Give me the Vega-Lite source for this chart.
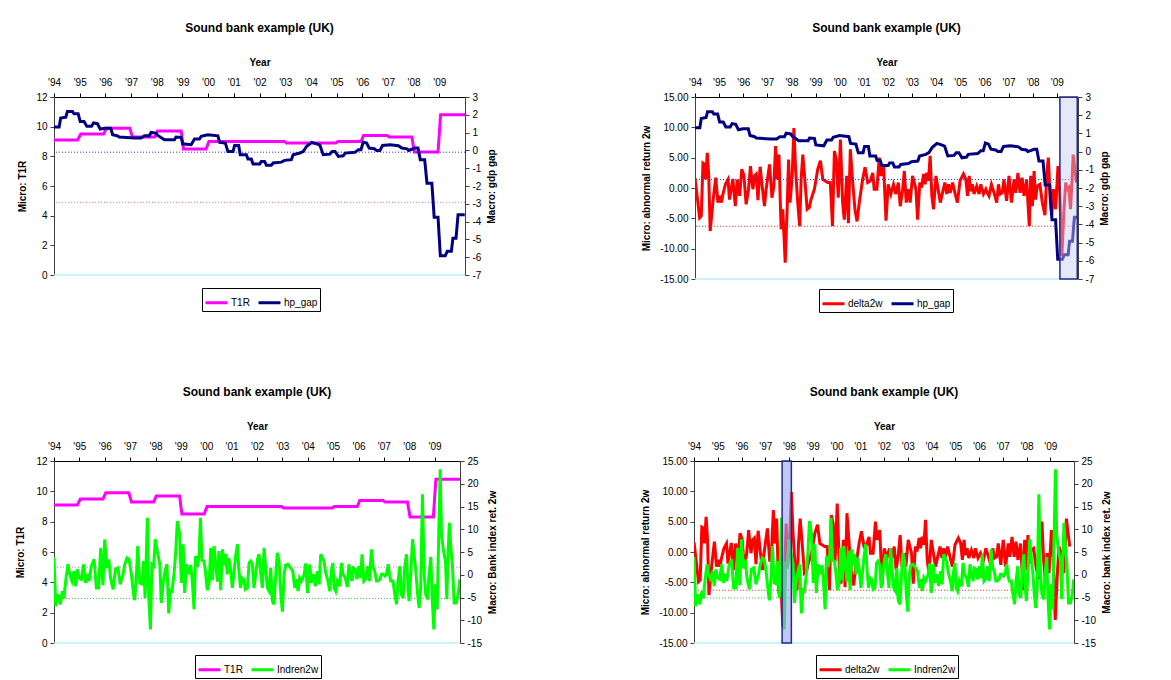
{
"$schema": "https://vega.github.io/schema/vega-lite/v6.json",
"padding": {"left": 15, "top": 22, "right": 0, "bottom": 0},
"datasets": {
"t1r": [{"year":1994,"v":9.1},{"year":1994.92,"v":9.1},{"year":1995.04,"v":9.5},{"year":1995.93,"v":9.5},{"year":1996.04,"v":9.9},{"year":1996.95,"v":9.9},{"year":1997.05,"v":9.3},{"year":1997.93,"v":9.3},{"year":1998.03,"v":9.7},{"year":1998.95,"v":9.7},{"year":1999.04,"v":8.5},{"year":1999.92,"v":8.5},{"year":2000.03,"v":9.0},{"year":2002.97,"v":9.0},{"year":2003.05,"v":8.9},{"year":2004.97,"v":8.9},{"year":2005.05,"v":9.0},{"year":2005.95,"v":9.0},{"year":2006.05,"v":9.4},{"year":2006.97,"v":9.4},{"year":2007.05,"v":9.3},{"year":2007.93,"v":9.3},{"year":2008.03,"v":8.3},{"year":2008.95,"v":8.3},{"year":2009.05,"v":10.8},{"year":2010,"v":10.8}],
"hp": [{"year":1994.00,"v":1.31},{"year":1994.20,"v":1.31},{"year":1994.26,"v":1.82},{"year":1994.46,"v":1.87},{"year":1994.52,"v":2.19},{"year":1994.72,"v":2.19},{"year":1994.78,"v":2.06},{"year":1994.94,"v":2.06},{"year":1995.02,"v":1.63},{"year":1995.17,"v":1.63},{"year":1995.28,"v":1.35},{"year":1995.46,"v":1.35},{"year":1995.54,"v":1.54},{"year":1995.69,"v":1.50},{"year":1995.80,"v":1.20},{"year":1995.99,"v":1.25},{"year":1996.21,"v":1.25},{"year":1996.28,"v":0.88},{"year":1996.47,"v":0.82},{"year":1996.54,"v":0.75},{"year":1997.13,"v":0.69},{"year":1997.39,"v":0.69},{"year":1997.52,"v":0.82},{"year":1997.71,"v":0.82},{"year":1997.78,"v":1.01},{"year":1997.97,"v":0.97},{"year":1998.04,"v":0.84},{"year":1998.30,"v":0.60},{"year":1998.69,"v":0.60},{"year":1998.75,"v":0.75},{"year":1998.95,"v":0.73},{"year":1999.01,"v":0.37},{"year":1999.34,"v":0.32},{"year":1999.47,"v":0.64},{"year":1999.66,"v":0.64},{"year":1999.73,"v":0.79},{"year":1999.99,"v":0.88},{"year":2000.38,"v":0.82},{"year":2000.45,"v":0.45},{"year":2000.67,"v":0.41},{"year":2000.77,"v":-0.06},{"year":2000.97,"v":-0.06},{"year":2001.03,"v":0.28},{"year":2001.19,"v":0.28},{"year":2001.25,"v":-0.24},{"year":2001.49,"v":-0.24},{"year":2001.55,"v":-0.49},{"year":2001.68,"v":-0.49},{"year":2001.75,"v":-0.77},{"year":2002.01,"v":-0.77},{"year":2002.07,"v":-0.62},{"year":2002.20,"v":-0.62},{"year":2002.27,"v":-0.84},{"year":2002.46,"v":-0.84},{"year":2002.53,"v":-0.71},{"year":2002.85,"v":-0.66},{"year":2002.98,"v":-0.56},{"year":2003.24,"v":-0.52},{"year":2003.31,"v":-0.24},{"year":2003.57,"v":-0.15},{"year":2003.70,"v":-0.06},{"year":2003.83,"v":0.22},{"year":2004.03,"v":0.45},{"year":2004.22,"v":0.37},{"year":2004.35,"v":0.30},{"year":2004.48,"v":-0.24},{"year":2004.74,"v":-0.21},{"year":2004.83,"v":-0.06},{"year":2004.94,"v":-0.06},{"year":2005.07,"v":-0.34},{"year":2005.26,"v":-0.30},{"year":2005.33,"v":-0.15},{"year":2005.72,"v":-0.11},{"year":2005.85,"v":0.04},{"year":2005.95,"v":0.04},{"year":2006.04,"v":0.47},{"year":2006.17,"v":0.41},{"year":2006.27,"v":0.13},{"year":2006.47,"v":0.09},{"year":2006.56,"v":0.0},{"year":2006.69,"v":0.0},{"year":2006.79,"v":0.28},{"year":2007.08,"v":0.32},{"year":2007.41,"v":0.26},{"year":2007.54,"v":0.13},{"year":2007.74,"v":0.09},{"year":2007.80,"v":0.0},{"year":2008.06,"v":0.13},{"year":2008.17,"v":0.13},{"year":2008.26,"v":-0.52},{"year":2008.43,"v":-0.52},{"year":2008.52,"v":-1.84},{"year":2008.71,"v":-1.84},{"year":2008.80,"v":-3.75},{"year":2008.95,"v":-3.75},{"year":2009.04,"v":-5.92},{"year":2009.23,"v":-5.92},{"year":2009.31,"v":-5.67},{"year":2009.47,"v":-5.67},{"year":2009.53,"v":-4.93},{"year":2009.65,"v":-4.93},{"year":2009.73,"v":-3.61},{"year":2009.99,"v":-3.61}],
"d2w": [{"year":1994.00,"v":1.6},{"year":1994.12,"v":-2.4},{"year":1994.19,"v":-4.9},{"year":1994.26,"v":-4.6},{"year":1994.33,"v":4.1},{"year":1994.40,"v":3.9},{"year":1994.44,"v":1.4},{"year":1994.51,"v":5.8},{"year":1994.57,"v":2.0},{"year":1994.63,"v":-7.1},{"year":1994.74,"v":-2.4},{"year":1994.86,"v":1.7},{"year":1994.95,"v":-2.4},{"year":1995.02,"v":-1.3},{"year":1995.09,"v":-2.4},{"year":1995.16,"v":-1.0},{"year":1995.26,"v":0.6},{"year":1995.37,"v":1.4},{"year":1995.43,"v":-1.9},{"year":1995.50,"v":-0.2},{"year":1995.57,"v":1.5},{"year":1995.67,"v":-3.0},{"year":1995.75,"v":1.4},{"year":1995.85,"v":-1.3},{"year":1995.94,"v":3.1},{"year":1996.03,"v":2.0},{"year":1996.12,"v":-2.7},{"year":1996.22,"v":-0.2},{"year":1996.30,"v":3.6},{"year":1996.40,"v":-0.2},{"year":1996.47,"v":2.0},{"year":1996.54,"v":2.3},{"year":1996.61,"v":-2.0},{"year":1996.70,"v":3.5},{"year":1996.77,"v":0.9},{"year":1996.88,"v":-3.0},{"year":1996.95,"v":-0.2},{"year":1997.09,"v":3.9},{"year":1997.19,"v":-1.6},{"year":1997.27,"v":0.3},{"year":1997.34,"v":6.9},{"year":1997.41,"v":1.4},{"year":1997.48,"v":5.5},{"year":1997.57,"v":-6.8},{"year":1997.64,"v":-3.5},{"year":1997.74,"v":-12.3},{"year":1997.82,"v":-3.5},{"year":1997.88,"v":4.7},{"year":1997.94,"v":-2.4},{"year":1998.03,"v":2.0},{"year":1998.10,"v":9.9},{"year":1998.17,"v":3.1},{"year":1998.26,"v":-2.4},{"year":1998.34,"v":-6.3},{"year":1998.40,"v":1.4},{"year":1998.47,"v":5.5},{"year":1998.57,"v":0.6},{"year":1998.65,"v":-3.5},{"year":1998.74,"v":-3.2},{"year":1998.81,"v":-1.9},{"year":1998.95,"v":-0.2},{"year":1999.09,"v":3.1},{"year":1999.20,"v":4.5},{"year":1999.30,"v":1.4},{"year":1999.39,"v":1.2},{"year":1999.50,"v":0.9},{"year":1999.61,"v":0.9},{"year":1999.70,"v":-6.3},{"year":1999.78,"v":6.1},{"year":1999.86,"v":4.7},{"year":1999.94,"v":-1.6},{"year":2000.03,"v":8.0},{"year":2000.12,"v":-2.4},{"year":2000.19,"v":-5.2},{"year":2000.29,"v":2.0},{"year":2000.36,"v":-5.8},{"year":2000.44,"v":6.4},{"year":2000.54,"v":0.9},{"year":2000.63,"v":-3.5},{"year":2000.72,"v":-5.5},{"year":2000.81,"v":-2.4},{"year":2000.95,"v":1.4},{"year":2001.05,"v":3.4},{"year":2001.16,"v":0.9},{"year":2001.27,"v":1.2},{"year":2001.37,"v":2.5},{"year":2001.43,"v":-0.2},{"year":2001.54,"v":-0.2},{"year":2001.64,"v":5.0},{"year":2001.71,"v":2.0},{"year":2001.82,"v":3.6},{"year":2001.92,"v":-5.4},{"year":2002.01,"v":0.6},{"year":2002.12,"v":-1.0},{"year":2002.23,"v":0.6},{"year":2002.33,"v":-1.0},{"year":2002.43,"v":0.9},{"year":2002.51,"v":-3.0},{"year":2002.61,"v":-0.2},{"year":2002.68,"v":2.8},{"year":2002.76,"v":-2.4},{"year":2002.84,"v":-0.2},{"year":2002.92,"v":-2.4},{"year":2003.02,"v":2.0},{"year":2003.16,"v":-0.2},{"year":2003.23,"v":-5.2},{"year":2003.32,"v":0.9},{"year":2003.39,"v":0.1},{"year":2003.48,"v":2.3},{"year":2003.54,"v":0.6},{"year":2003.61,"v":2.5},{"year":2003.68,"v":1.2},{"year":2003.75,"v":5.3},{"year":2003.82,"v":-1.3},{"year":2003.89,"v":-3.5},{"year":2003.99,"v":2.0},{"year":2004.08,"v":-0.2},{"year":2004.17,"v":-2.4},{"year":2004.26,"v":-0.8},{"year":2004.36,"v":0.9},{"year":2004.44,"v":-1.0},{"year":2004.51,"v":0.6},{"year":2004.58,"v":-0.8},{"year":2004.68,"v":0.9},{"year":2004.79,"v":-1.0},{"year":2004.88,"v":-2.4},{"year":2004.99,"v":1.2},{"year":2005.13,"v":2.3},{"year":2005.23,"v":1.4},{"year":2005.30,"v":-1.3},{"year":2005.37,"v":2.0},{"year":2005.43,"v":-0.5},{"year":2005.50,"v":0.6},{"year":2005.57,"v":-1.0},{"year":2005.68,"v":0.3},{"year":2005.78,"v":-1.0},{"year":2005.85,"v":0.6},{"year":2005.96,"v":-1.0},{"year":2006.06,"v":-0.2},{"year":2006.12,"v":-0.8},{"year":2006.19,"v":-1.3},{"year":2006.29,"v":0.6},{"year":2006.40,"v":-0.8},{"year":2006.51,"v":-2.4},{"year":2006.58,"v":0.6},{"year":2006.65,"v":-1.0},{"year":2006.74,"v":-0.8},{"year":2006.81,"v":1.4},{"year":2006.92,"v":-2.1},{"year":2007.02,"v":2.0},{"year":2007.12,"v":-2.4},{"year":2007.23,"v":1.4},{"year":2007.30,"v":-0.8},{"year":2007.39,"v":2.5},{"year":2007.48,"v":-0.8},{"year":2007.56,"v":1.7},{"year":2007.64,"v":-1.3},{"year":2007.75,"v":1.4},{"year":2007.86,"v":-6.3},{"year":2007.92,"v":2.0},{"year":2007.99,"v":-3.0},{"year":2008.06,"v":2.8},{"year":2008.12,"v":-1.9},{"year":2008.19,"v":0.3},{"year":2008.30,"v":0.6},{"year":2008.40,"v":-2.4},{"year":2008.51,"v":-4.5},{"year":2008.58,"v":2.0},{"year":2008.65,"v":5.0},{"year":2008.72,"v":-1.3},{"year":2008.79,"v":-4.6},{"year":2008.86,"v":-0.2},{"year":2008.95,"v":-3.5},{"year":2009.05,"v":3.6},{"year":2009.12,"v":-0.2},{"year":2009.21,"v":-11.2},{"year":2009.30,"v":-3.5},{"year":2009.37,"v":0.9},{"year":2009.43,"v":-0.2},{"year":2009.50,"v":0.1},{"year":2009.57,"v":-3.5},{"year":2009.63,"v":0.9},{"year":2009.68,"v":5.5},{"year":2009.75,"v":3.1},{"year":2009.82,"v":0.9}],
"ind": [{"year":1994.00,"v":3.9},{"year":1994.07,"v":-6.9},{"year":1994.16,"v":-4.3},{"year":1994.25,"v":-6.5},{"year":1994.33,"v":-3.6},{"year":1994.39,"v":-5.2},{"year":1994.46,"v":-1.4},{"year":1994.55,"v":2.3},{"year":1994.62,"v":0.1},{"year":1994.71,"v":-1.4},{"year":1994.79,"v":0.8},{"year":1994.85,"v":-2.5},{"year":1994.92,"v":1.2},{"year":1994.99,"v":-0.7},{"year":1995.08,"v":-1.0},{"year":1995.17,"v":2.3},{"year":1995.24,"v":-1.8},{"year":1995.31,"v":0.2},{"year":1995.38,"v":-1.4},{"year":1995.47,"v":1.9},{"year":1995.58,"v":3.4},{"year":1995.67,"v":-2.9},{"year":1995.76,"v":-2.9},{"year":1995.84,"v":5.9},{"year":1995.93,"v":-2.3},{"year":1996.00,"v":7.8},{"year":1996.08,"v":1.5},{"year":1996.16,"v":3.4},{"year":1996.23,"v":-0.7},{"year":1996.33,"v":-3.2},{"year":1996.42,"v":1.2},{"year":1996.52,"v":1.5},{"year":1996.61,"v":-2.1},{"year":1996.72,"v":0.1},{"year":1996.79,"v":2.3},{"year":1996.88,"v":3.7},{"year":1996.96,"v":3.4},{"year":1997.05,"v":0.1},{"year":1997.13,"v":-4.0},{"year":1997.18,"v":-5.6},{"year":1997.25,"v":0.1},{"year":1997.30,"v":6.3},{"year":1997.38,"v":-1.8},{"year":1997.47,"v":-2.0},{"year":1997.53,"v":3.0},{"year":1997.59,"v":-5.1},{"year":1997.68,"v":12.5},{"year":1997.73,"v":-4.3},{"year":1997.80,"v":-12.0},{"year":1997.86,"v":2.3},{"year":1997.93,"v":1.9},{"year":1997.99,"v":7.8},{"year":1998.07,"v":5.2},{"year":1998.17,"v":2.4},{"year":1998.23,"v":-6.2},{"year":1998.30,"v":-1.8},{"year":1998.39,"v":1.2},{"year":1998.45,"v":2.3},{"year":1998.52,"v":-8.5},{"year":1998.59,"v":-3.4},{"year":1998.65,"v":-3.6},{"year":1998.73,"v":0.1},{"year":1998.80,"v":5.2},{"year":1998.86,"v":11.8},{"year":1998.95,"v":8.9},{"year":1999.02,"v":-1.8},{"year":1999.09,"v":6.7},{"year":1999.15,"v":-4.0},{"year":1999.23,"v":2.3},{"year":1999.31,"v":0.1},{"year":1999.39,"v":2.1},{"year":1999.45,"v":-1.4},{"year":1999.52,"v":-7.6},{"year":1999.58,"v":4.1},{"year":1999.65,"v":1.7},{"year":1999.72,"v":4.5},{"year":1999.77,"v":12.5},{"year":1999.83,"v":3.2},{"year":1999.91,"v":3.0},{"year":1999.97,"v":0.7},{"year":2000.04,"v":-3.4},{"year":2000.11,"v":-2.0},{"year":2000.18,"v":5.9},{"year":2000.24,"v":-1.2},{"year":2000.31,"v":6.3},{"year":2000.37,"v":2.3},{"year":2000.44,"v":-1.5},{"year":2000.50,"v":5.2},{"year":2000.57,"v":-3.4},{"year":2000.64,"v":5.6},{"year":2000.70,"v":2.1},{"year":2000.77,"v":4.6},{"year":2000.83,"v":0.1},{"year":2000.89,"v":3.7},{"year":2000.96,"v":1.0},{"year":2001.03,"v":-2.9},{"year":2001.10,"v":0.8},{"year":2001.16,"v":4.1},{"year":2001.23,"v":6.7},{"year":2001.28,"v":1.5},{"year":2001.35,"v":-2.9},{"year":2001.41,"v":-0.7},{"year":2001.48,"v":-1.0},{"year":2001.54,"v":-3.2},{"year":2001.62,"v":-2.9},{"year":2001.69,"v":2.6},{"year":2001.75,"v":3.0},{"year":2001.82,"v":2.3},{"year":2001.88,"v":-2.9},{"year":2001.95,"v":0.1},{"year":2002.02,"v":3.4},{"year":2002.08,"v":4.5},{"year":2002.15,"v":0.1},{"year":2002.21,"v":-2.9},{"year":2002.28,"v":5.9},{"year":2002.34,"v":1.5},{"year":2002.41,"v":-2.9},{"year":2002.48,"v":-3.6},{"year":2002.54,"v":1.5},{"year":2002.61,"v":-5.8},{"year":2002.67,"v":-6.5},{"year":2002.74,"v":0.1},{"year":2002.80,"v":4.8},{"year":2002.87,"v":3.0},{"year":2002.94,"v":-4.3},{"year":2003.00,"v":-8.1},{"year":2003.07,"v":0.1},{"year":2003.13,"v":2.1},{"year":2003.22,"v":2.3},{"year":2003.33,"v":1.5},{"year":2003.41,"v":0.8},{"year":2003.49,"v":-2.9},{"year":2003.55,"v":-1.0},{"year":2003.62,"v":-3.6},{"year":2003.68,"v":-0.7},{"year":2003.75,"v":-1.4},{"year":2003.86,"v":0.1},{"year":2003.92,"v":2.5},{"year":2003.99,"v":-4.0},{"year":2004.08,"v":2.3},{"year":2004.14,"v":-1.8},{"year":2004.22,"v":0.1},{"year":2004.30,"v":-2.5},{"year":2004.38,"v":0.8},{"year":2004.45,"v":-2.1},{"year":2004.51,"v":4.5},{"year":2004.58,"v":3.7},{"year":2004.64,"v":3.0},{"year":2004.71,"v":0.4},{"year":2004.80,"v":-1.4},{"year":2004.87,"v":-3.6},{"year":2004.93,"v":0.8},{"year":2004.99,"v":2.6},{"year":2005.04,"v":-2.9},{"year":2005.10,"v":-3.6},{"year":2005.17,"v":-1.4},{"year":2005.26,"v":-2.5},{"year":2005.33,"v":2.6},{"year":2005.39,"v":0.1},{"year":2005.48,"v":-0.7},{"year":2005.56,"v":-2.7},{"year":2005.62,"v":2.3},{"year":2005.68,"v":0.1},{"year":2005.75,"v":-1.4},{"year":2005.80,"v":1.5},{"year":2005.88,"v":1.2},{"year":2005.94,"v":-1.0},{"year":2006.01,"v":1.9},{"year":2006.08,"v":-0.7},{"year":2006.14,"v":4.5},{"year":2006.21,"v":-1.4},{"year":2006.27,"v":-1.0},{"year":2006.35,"v":1.9},{"year":2006.43,"v":-1.4},{"year":2006.51,"v":5.6},{"year":2006.58,"v":1.5},{"year":2006.64,"v":0.8},{"year":2006.71,"v":-1.4},{"year":2006.77,"v":-1.4},{"year":2006.85,"v":-1.0},{"year":2006.90,"v":0.1},{"year":2006.97,"v":0.1},{"year":2007.04,"v":-0.3},{"year":2007.10,"v":0.1},{"year":2007.17,"v":2.3},{"year":2007.22,"v":0.1},{"year":2007.27,"v":-1.4},{"year":2007.36,"v":-1.4},{"year":2007.43,"v":-4.3},{"year":2007.50,"v":-6.5},{"year":2007.56,"v":-1.4},{"year":2007.63,"v":1.9},{"year":2007.69,"v":-4.3},{"year":2007.76,"v":-5.1},{"year":2007.82,"v":1.5},{"year":2007.89,"v":4.5},{"year":2007.96,"v":-3.6},{"year":2007.99,"v":-5.8},{"year":2008.06,"v":0.1},{"year":2008.13,"v":7.8},{"year":2008.19,"v":4.5},{"year":2008.26,"v":0.8},{"year":2008.33,"v":-4.3},{"year":2008.39,"v":-7.3},{"year":2008.45,"v":-2.9},{"year":2008.52,"v":17.7},{"year":2008.59,"v":0.1},{"year":2008.65,"v":-4.3},{"year":2008.72,"v":-5.4},{"year":2008.78,"v":0.1},{"year":2008.85,"v":3.9},{"year":2008.91,"v":-5.8},{"year":2008.97,"v":-12.0},{"year":2009.03,"v":-2.1},{"year":2009.10,"v":-7.6},{"year":2009.16,"v":8.1},{"year":2009.22,"v":23.2},{"year":2009.27,"v":8.9},{"year":2009.35,"v":5.2},{"year":2009.43,"v":3.0},{"year":2009.48,"v":-5.4},{"year":2009.53,"v":4.5},{"year":2009.58,"v":11.4},{"year":2009.64,"v":5.9},{"year":2009.70,"v":2.3},{"year":2009.77,"v":-6.2},{"year":2009.85,"v":-6.2},{"year":2009.93,"v":-4.3},{"year":2009.99,"v":-1.0}]
},
"vconcat": [
{"hconcat": [
{
"width": 411, "height": 178,
"title": "Sound bank example (UK)",
"layer": [
 {"layer": [
  {"data": {"name": "t1r"}, "mark": {"type": "line", "strokeWidth": 3, "clip": true},
   "encoding": {
    "x": {"field": "year", "type": "quantitative", "scale": {"domain": [1994, 2010], "nice": false, "zero": false}, "axis": {"orient": "top", "title": "Year", "values": [1994,1995,1996,1997,1998,1999,2000,2001,2002,2003,2004,2005,2006,2007,2008,2009], "labelExpr": "\"'\" + substring(toString(datum.value), 2, 4)"}},
    "y": {"field": "v", "type": "quantitative", "scale": {"domain": [0, 12], "nice": false, "zero": false}, "axis": {"orient": "left", "title": "Micro: T1R", "values": [0,2,4,6,8,10,12]}},
    "color": {"datum": "T1R", "type": "nominal", "scale": {"domain": ["T1R", "hp_gap"], "range": ["#ff00ff", "#000080"]}, "legend": {"title": null, "orient": "none", "legendX": 148, "legendY": 191}}
   }},
  {"data": {"values": [{}]}, "mark": {"type": "rule", "color": "#ff66ff", "strokeDash": [1, 2], "strokeWidth": 1}, "encoding": {"y": {"datum": 4.9, "type": "quantitative", "axis": {"orient": "left", "title": "Micro: T1R", "values": [0,2,4,6,8,10,12]}}}},
  {"data": {"values": [{}]}, "mark": {"type": "rule", "color": "#b8f0f8", "strokeWidth": 1.5}, "encoding": {"y": {"datum": 0, "type": "quantitative", "axis": {"orient": "left", "title": "Micro: T1R", "values": [0,2,4,6,8,10,12]}}}}
 ]},
 {"layer": [
  {"data": {"values": [{}]}, "mark": {"type": "rule", "color": "#3333ff", "strokeDash": [1, 2], "strokeWidth": 1}, "encoding": {"y": {"datum": -0.1, "type": "quantitative", "axis": {"orient": "right", "title": "Macro: gdp gap", "values": [-7,-6,-5,-4,-3,-2,-1,0,1,2,3], "titleAngle": 270, "titleBaseline": "top"}}}},
  {"data": {"name": "hp"}, "mark": {"type": "line", "strokeWidth": 3, "clip": true},
   "encoding": {
    "x": {"field": "year", "type": "quantitative", "scale": {"domain": [1994, 2010], "nice": false, "zero": false}, "axis": {"orient": "top", "title": "Year", "values": [1994,1995,1996,1997,1998,1999,2000,2001,2002,2003,2004,2005,2006,2007,2008,2009], "labelExpr": "\"'\" + substring(toString(datum.value), 2, 4)"}},
    "y": {"field": "v", "type": "quantitative", "scale": {"domain": [-7, 3], "nice": false, "zero": false}, "axis": {"orient": "right", "title": "Macro: gdp gap", "values": [-7,-6,-5,-4,-3,-2,-1,0,1,2,3], "titleAngle": 270, "titleBaseline": "top"}},
    "color": {"datum": "hp_gap", "type": "nominal", "legend": {"title": null, "orient": "none", "legendX": 148, "legendY": 191}}
   }}
 ]}
],
"resolve": {"scale": {"y": "independent"}}
},
{
"width": 383, "height": 182,
"title": "Sound bank example (UK)",
"layer": [
 {"layer": [
  {"data": {"name": "d2w"}, "mark": {"type": "line", "strokeWidth": 3, "clip": true},
   "encoding": {
    "x": {"field": "year", "type": "quantitative", "scale": {"domain": [1994, 2009.88], "nice": false, "zero": false}, "axis": {"orient": "top", "title": "Year", "values": [1994,1995,1996,1997,1998,1999,2000,2001,2002,2003,2004,2005,2006,2007,2008,2009], "labelExpr": "\"'\" + substring(toString(datum.value), 2, 4)"}},
    "y": {"field": "v", "type": "quantitative", "scale": {"domain": [-15, 15], "nice": false, "zero": false}, "axis": {"orient": "left", "title": "Micro: abnormal return 2w", "values": [-15,-10,-5,0,5,10,15], "format": ".2f"}},
    "color": {"datum": "delta2w", "type": "nominal", "scale": {"domain": ["delta2w", "hp_gap"], "range": ["#ff0000", "#000080"]}, "legend": {"title": null, "orient": "none", "legendX": 124, "legendY": 192}}
   }},
  {"data": {"values": [{}]}, "mark": {"type": "rule", "color": "#3333ff", "strokeDash": [1, 2], "strokeWidth": 1}, "encoding": {"y": {"datum": 1.4, "type": "quantitative", "axis": {"orient": "left", "title": "Micro: abnormal return 2w", "values": [-15,-10,-5,0,5,10,15], "format": ".2f"}}}},
  {"data": {"values": [{}]}, "mark": {"type": "rule", "color": "#ff3333", "strokeDash": [1, 2], "strokeWidth": 1}, "encoding": {"y": {"datum": -6.3, "type": "quantitative", "axis": {"orient": "left", "title": "Micro: abnormal return 2w", "values": [-15,-10,-5,0,5,10,15], "format": ".2f"}}}},
  {"data": {"values": [{}]}, "mark": {"type": "rule", "color": "#b8f0f8", "strokeWidth": 1.5}, "encoding": {"y": {"datum": -15, "type": "quantitative", "axis": {"orient": "left", "title": "Micro: abnormal return 2w", "values": [-15,-10,-5,0,5,10,15], "format": ".2f"}}}}
 ]},
 {"layer": [
  {"data": {"name": "hp"}, "mark": {"type": "line", "strokeWidth": 3, "clip": true},
   "encoding": {
    "x": {"field": "year", "type": "quantitative", "scale": {"domain": [1994, 2009.88], "nice": false, "zero": false}, "axis": {"orient": "top", "title": "Year", "values": [1994,1995,1996,1997,1998,1999,2000,2001,2002,2003,2004,2005,2006,2007,2008,2009], "labelExpr": "\"'\" + substring(toString(datum.value), 2, 4)"}},
    "y": {"field": "v", "type": "quantitative", "scale": {"domain": [-7, 3], "nice": false, "zero": false}, "axis": {"orient": "right", "title": "Macro: gdp gap", "values": [-7,-6,-5,-4,-3,-2,-1,0,1,2,3], "titleAngle": 270, "titleBaseline": "top"}},
    "color": {"datum": "hp_gap", "type": "nominal", "legend": {"title": null, "orient": "none", "legendX": 124, "legendY": 192}}
   }},
  {"data": {"values": [{}]}, "mark": {"type": "rect", "fill": "#c8cdf5", "fillOpacity": 0.45, "stroke": "#1f2a8c", "strokeWidth": 1.5},
   "encoding": {"x": {"datum": 2009.13, "type": "quantitative", "axis": {"orient": "top", "title": "Year", "values": [1994,1995,1996,1997,1998,1999,2000,2001,2002,2003,2004,2005,2006,2007,2008,2009], "labelExpr": "\"'\" + substring(toString(datum.value), 2, 4)"}}, "x2": {"datum": 2009.85}}}
 ]}
],
"resolve": {"scale": {"y": "independent"}}
}
],
"spacing": 144,
"resolve": {"scale": {"x": "independent", "y": "independent", "color": "independent"}, "legend": {"color": "independent"}}
},
{"hconcat": [
{
"width": 406, "height": 182,
"title": "Sound bank example (UK)",
"layer": [
 {"layer": [
  {"data": {"name": "t1r"}, "mark": {"type": "line", "strokeWidth": 3, "clip": true},
   "encoding": {
    "x": {"field": "year", "type": "quantitative", "scale": {"domain": [1994, 2010], "nice": false, "zero": false}, "axis": {"orient": "top", "title": "Year", "values": [1994,1995,1996,1997,1998,1999,2000,2001,2002,2003,2004,2005,2006,2007,2008,2009], "labelExpr": "\"'\" + substring(toString(datum.value), 2, 4)"}},
    "y": {"field": "v", "type": "quantitative", "scale": {"domain": [0, 12], "nice": false, "zero": false}, "axis": {"orient": "left", "title": "Micro: T1R", "values": [0,2,4,6,8,10,12], "titlePadding": 10}},
    "color": {"datum": "T1R", "type": "nominal", "scale": {"domain": ["T1R", "Indren2w"], "range": ["#ff00ff", "#00ff00"]}, "legend": {"title": null, "orient": "none", "legendX": 141, "legendY": 194}}
   }},
  {"data": {"values": [{}]}, "mark": {"type": "rule", "color": "#ff66ff", "strokeDash": [1, 2], "strokeWidth": 1}, "encoding": {"y": {"datum": 5.0, "type": "quantitative", "axis": {"orient": "left", "title": "Micro: T1R", "values": [0,2,4,6,8,10,12], "titlePadding": 10}}}},
  {"data": {"values": [{}]}, "mark": {"type": "rule", "color": "#b8f0f8", "strokeWidth": 1.5}, "encoding": {"y": {"datum": 0, "type": "quantitative", "axis": {"orient": "left", "title": "Micro: T1R", "values": [0,2,4,6,8,10,12], "titlePadding": 10}}}}
 ]},
 {"layer": [
  {"data": {"values": [{}]}, "mark": {"type": "rule", "color": "#33cc33", "strokeDash": [1, 2], "strokeWidth": 1}, "encoding": {"y": {"datum": -5.2, "type": "quantitative", "axis": {"orient": "right", "title": "Macro: Bank index ret. 2w", "values": [-15,-10,-5,0,5,10,15,20,25], "titleAngle": 270, "titleBaseline": "top"}}}},
  {"data": {"name": "ind"}, "mark": {"type": "line", "strokeWidth": 3, "clip": true},
   "encoding": {
    "x": {"field": "year", "type": "quantitative", "scale": {"domain": [1994, 2010], "nice": false, "zero": false}, "axis": {"orient": "top", "title": "Year", "values": [1994,1995,1996,1997,1998,1999,2000,2001,2002,2003,2004,2005,2006,2007,2008,2009], "labelExpr": "\"'\" + substring(toString(datum.value), 2, 4)"}},
    "y": {"field": "v", "type": "quantitative", "scale": {"domain": [-15, 25], "nice": false, "zero": false}, "axis": {"orient": "right", "title": "Macro: Bank index ret. 2w", "values": [-15,-10,-5,0,5,10,15,20,25], "titleAngle": 270, "titleBaseline": "top"}},
    "color": {"datum": "Indren2w", "type": "nominal", "legend": {"title": null, "orient": "none", "legendX": 141, "legendY": 194}}
   }}
 ]}
],
"resolve": {"scale": {"y": "independent"}}
},
{
"width": 380, "height": 182,
"title": "Sound bank example (UK)",
"layer": [
 {"layer": [
  {"data": {"name": "d2w"}, "mark": {"type": "line", "strokeWidth": 3, "clip": true},
   "encoding": {
    "x": {"field": "year", "type": "quantitative", "scale": {"domain": [1994, 2010], "nice": false, "zero": false}, "axis": {"orient": "top", "title": "Year", "values": [1994,1995,1996,1997,1998,1999,2000,2001,2002,2003,2004,2005,2006,2007,2008,2009], "labelExpr": "\"'\" + substring(toString(datum.value), 2, 4)"}},
    "y": {"field": "v", "type": "quantitative", "scale": {"domain": [-15, 15], "nice": false, "zero": false}, "axis": {"orient": "left", "title": "Micro: abnormal return 2w", "values": [-15,-10,-5,0,5,10,15], "format": ".2f"}},
    "color": {"datum": "delta2w", "type": "nominal", "scale": {"domain": ["delta2w", "Indren2w"], "range": ["#ff0000", "#00ff00"]}, "legend": {"title": null, "orient": "none", "legendX": 122, "legendY": 194}}
   }},
  {"data": {"values": [{}]}, "mark": {"type": "rule", "color": "#ff3333", "strokeDash": [1, 2], "strokeWidth": 1}, "encoding": {"y": {"datum": -6.3, "type": "quantitative", "axis": {"orient": "left", "title": "Micro: abnormal return 2w", "values": [-15,-10,-5,0,5,10,15], "format": ".2f"}}}},
  {"data": {"values": [{}]}, "mark": {"type": "rule", "color": "#b8f0f8", "strokeWidth": 1.5}, "encoding": {"y": {"datum": -15, "type": "quantitative", "axis": {"orient": "left", "title": "Micro: abnormal return 2w", "values": [-15,-10,-5,0,5,10,15], "format": ".2f"}}}}
 ]},
 {"layer": [
  {"data": {"values": [{}]}, "mark": {"type": "rule", "color": "#33cc33", "strokeDash": [1, 2], "strokeWidth": 1}, "encoding": {"y": {"datum": -5.1, "type": "quantitative", "axis": {"orient": "right", "title": "Macro: bank index ret. 2w", "values": [-15,-10,-5,0,5,10,15,20,25], "titleAngle": 270, "titleBaseline": "top"}}}},
  {"data": {"name": "ind"}, "mark": {"type": "line", "strokeWidth": 3, "clip": true},
   "encoding": {
    "x": {"field": "year", "type": "quantitative", "scale": {"domain": [1994, 2010], "nice": false, "zero": false}, "axis": {"orient": "top", "title": "Year", "values": [1994,1995,1996,1997,1998,1999,2000,2001,2002,2003,2004,2005,2006,2007,2008,2009], "labelExpr": "\"'\" + substring(toString(datum.value), 2, 4)"}},
    "y": {"field": "v", "type": "quantitative", "scale": {"domain": [-15, 25], "nice": false, "zero": false}, "axis": {"orient": "right", "title": "Macro: bank index ret. 2w", "values": [-15,-10,-5,0,5,10,15,20,25], "titleAngle": 270, "titleBaseline": "top"}},
    "color": {"datum": "Indren2w", "type": "nominal", "legend": {"title": null, "orient": "none", "legendX": 122, "legendY": 194}}
   }},
  {"data": {"values": [{}]}, "mark": {"type": "rect", "fill": "#9aa4ee", "fillOpacity": 0.6, "stroke": "#1f2a8c", "strokeWidth": 1.5},
   "encoding": {"x": {"datum": 1997.71, "type": "quantitative", "axis": {"orient": "top", "title": "Year", "values": [1994,1995,1996,1997,1998,1999,2000,2001,2002,2003,2004,2005,2006,2007,2008,2009], "labelExpr": "\"'\" + substring(toString(datum.value), 2, 4)"}}, "x2": {"datum": 1998.1}}}
 ]}
],
"resolve": {"scale": {"y": "independent"}}
}
],
"spacing": 142,
"resolve": {"scale": {"x": "independent", "y": "independent", "color": "independent"}, "legend": {"color": "independent"}}
}
],
"spacing": 73,
"resolve": {"scale": {"x": "independent", "y": "independent", "color": "independent"}, "legend": {"color": "independent"}},
"config": {
 "font": "Liberation Sans",
 "view": {"stroke": null},
 "background": "#ffffff",
 "title": {"fontSize": 12, "fontWeight": "bold", "color": "#000000", "offset": 22, "anchor": "middle"},
 "axis": {"labelFontSize": 10, "titleFontSize": 10, "titleFontWeight": "bold", "labelColor": "#000000", "titleColor": "#000000", "grid": false, "tickSize": 4, "labelPadding": 3, "domainColor": "#404040", "tickColor": "#404040", "labelFlush": false, "labelOverlap": false, "titlePadding": 6},
 "axisLeft": {"titlePadding": 8},
 "axisTop": {"domainColor": "#000000", "tickColor": "#000000", "labelPadding": 6, "titlePadding": 10},
 "legend": {"direction": "horizontal", "strokeColor": "#000000", "padding": 2, "symbolType": "stroke", "symbolStrokeWidth": 3, "symbolSize": 484, "labelFontSize": 10, "labelOffset": 2, "columnPadding": 2},
 "locale": {"number": {"decimal": ".", "thousands": ",", "grouping": [3], "currency": ["$", ""], "minus": "-"}}
}
}
